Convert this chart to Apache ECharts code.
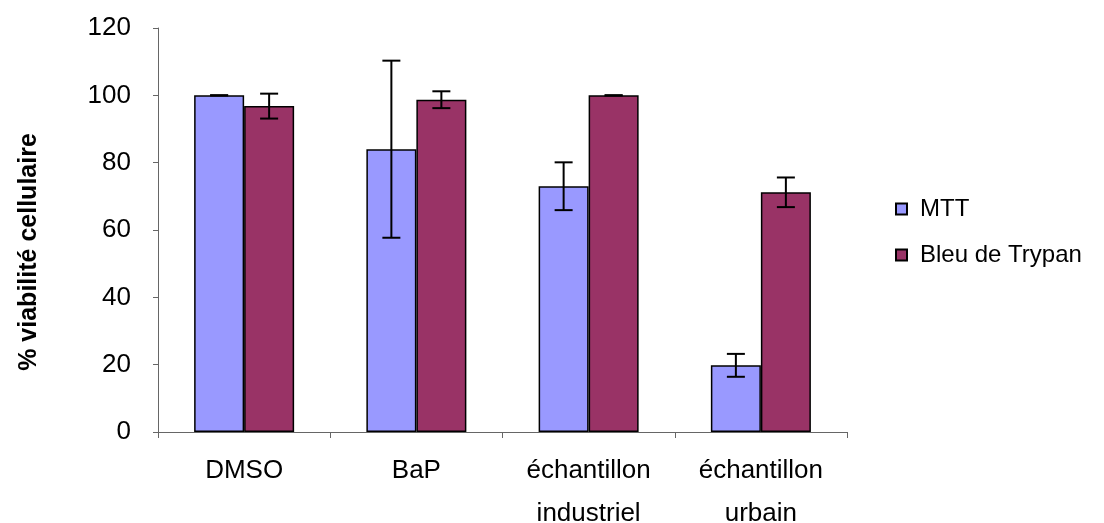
<!DOCTYPE html>
<html>
<head>
<meta charset="utf-8">
<script src="https://cdn.jsdelivr.net/npm/echarts@6/dist/echarts.min.js"></script>
<style>html,body{margin:0;padding:0;background:#fff;}#c{width:1104px;height:523px;}</style>
</head>
<body>
<div id="c"></div>
<script>
const categories = ['DMSO', 'BaP', 'échantillon\nindustriel', 'échantillon\nurbain'];
const seriesNames = ['MTT', 'Bleu de Trypan'];
const mttValues = [100, 84, 73, 19.8];
const mttErrors = [0, 26.3, 7.1, 3.4];
const trypanValues = [96.8, 98.7, 100, 71.2];
const trypanErrors = [3.7, 2.5, 0, 4.4];
const yTicks = {min: 0, max: 120, interval: 20};

const font = 'Liberation Sans, Arial, sans-serif';
const BAR_W = 50;

function errData(vals, errs) {
  return vals.map((v, i) => [i, v - errs[i], v + errs[i]]);
}
function errSeries(vals, errs, offset) {
  return {
    type: 'custom',
    data: errData(vals, errs),
    z: 10,
    silent: true,
    renderItem: function (params, api) {
      const x = api.coord([api.value(0), 0])[0] + offset;
      const yLo = api.coord([api.value(0), api.value(1)])[1];
      const yHi = api.coord([api.value(0), api.value(2)])[1];
      const cap = 9;
      const st = {stroke: '#000', lineWidth: 2};
      return {
        type: 'group',
        children: [
          {type: 'line', shape: {x1: x, y1: yLo, x2: x, y2: yHi}, style: st},
          {type: 'line', shape: {x1: x - cap, y1: yHi, x2: x + cap, y2: yHi}, style: st},
          {type: 'line', shape: {x1: x - cap, y1: yLo, x2: x + cap, y2: yLo}, style: st}
        ]
      };
    }
  };
}

const chart = echarts.init(document.getElementById('c'), null, {renderer: 'canvas'});
chart.setOption({
  animation: false,
  backgroundColor: '#fff',
  grid: {left: 158, right: 257, top: 28, bottom: 91, containLabel: false, outerBoundsMode: 'none'},
  legend: {
    data: seriesNames,
    orient: 'vertical',
    left: 890,
    top: 192,
    itemWidth: 11,
    itemHeight: 11,
    itemGap: 22,
    icon: 'rect',
    textStyle: {fontFamily: font, fontSize: 24, color: '#000', padding: [0, 0, 0, 8]}
  },
  xAxis: {
    type: 'category',
    data: categories,
    axisLine: {lineStyle: {color: '#666', width: 1}},
    axisTick: {show: true, length: 6, lineStyle: {color: '#666'}},
    axisLabel: {fontFamily: font, fontSize: 26, color: '#000', margin: 17, lineHeight: 43, interval: 0}
  },
  yAxis: {
    type: 'value',
    min: yTicks.min, max: yTicks.max, interval: yTicks.interval,
    name: '% viabilité cellulaire',
    nameLocation: 'middle',
    nameGap: 116,
    nameRotate: 90,
    nameTextStyle: {fontFamily: font, fontSize: 25, fontWeight: 'bold', color: '#000', padding: [0, 0, 0, -44]},
    axisLine: {show: true, lineStyle: {color: '#666', width: 1}},
    axisTick: {show: true, length: 5, lineStyle: {color: '#666'}},
    splitLine: {show: false},
    axisLabel: {fontFamily: font, fontSize: 26, color: '#000', margin: 27}
  },
  series: [
    {
      name: seriesNames[0], type: 'bar', data: mttValues, barWidth: BAR_W, barGap: '0%',
      itemStyle: {color: '#9999FF', borderColor: '#000', borderWidth: 1.5}
    },
    {
      name: seriesNames[1], type: 'bar', data: trypanValues, barWidth: BAR_W, barGap: '0%',
      itemStyle: {color: '#993366', borderColor: '#000', borderWidth: 1.5}
    },
    errSeries(mttValues, mttErrors, -BAR_W / 2),
    errSeries(trypanValues, trypanErrors, BAR_W / 2)
  ]
});
</script>
</body>
</html>
